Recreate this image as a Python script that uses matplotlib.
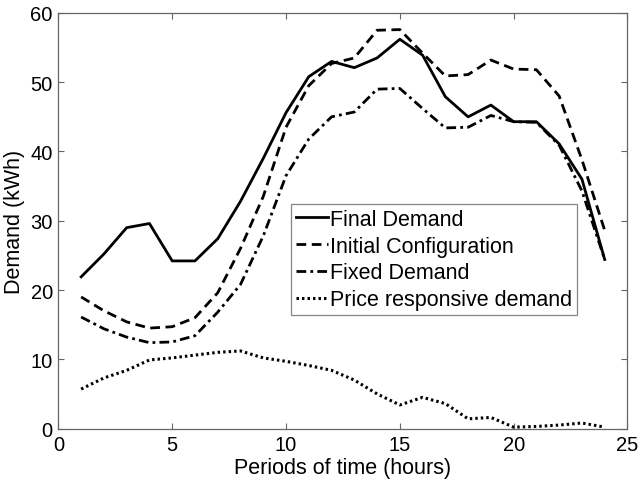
import matplotlib
matplotlib.use("Agg")
import matplotlib.pyplot as plt

periods = list(range(1, 25))

final_demand = [21.9, 25.2, 29.0, 29.6, 24.2, 24.2, 27.4, 32.8, 39.0, 45.6, 50.8, 53.0,
                52.1, 53.5, 56.2, 53.9, 47.9, 45.0, 46.7, 44.3, 44.3, 41.1, 36.0, 24.4]
initial_config = [19.0, 17.0, 15.4, 14.5, 14.7, 16.0, 19.6, 26.0, 33.5, 43.5, 49.5, 52.7,
                  53.5, 57.5, 57.6, 54.2, 50.9, 51.1, 53.2, 51.9, 51.8, 48.0, 38.8, 28.6]
fixed_demand = [16.1, 14.4, 13.2, 12.4, 12.5, 13.4, 16.8, 20.8, 27.8, 36.5, 41.8, 45.0,
                45.7, 49.0, 49.1, 46.2, 43.4, 43.5, 45.2, 44.3, 44.2, 40.9, 34.3, 24.4]
price_responsive = [5.7, 7.3, 8.4, 9.9, 10.2, 10.6, 11.0, 11.2, 10.2, 9.7, 9.1, 8.4,
                    7.0, 5.0, 3.4, 4.5, 3.6, 1.4, 1.6, 0.2, 0.3, 0.5, 0.8, 0.2]

plt.rcParams["font.family"] = ["Liberation Sans", "DejaVu Sans"]
plt.rcParams["font.size"] = 15.5

fig = plt.figure(figsize=(6.38, 4.81), dpi=100)
ax = fig.add_axes([0.0915, 0.107, 0.892, 0.864])

ax.plot(periods, final_demand, color="black", linewidth=2.0, linestyle="-",
        label="Final Demand")
ax.plot(periods, initial_config, color="black", linewidth=2.0, linestyle=(0, (3.5, 2.0)),
        label="Initial Configuration")
ax.plot(periods, fixed_demand, color="black", linewidth=2.0,
        linestyle=(0, (3.5, 1.5, 1, 1.5)), label="Fixed Demand")
ax.plot(periods, price_responsive, color="black", linewidth=2.2,
        linestyle=(0, (0.8, 1.0)), label="Price responsive demand")

ax.set_xlim(0, 25)
ax.set_ylim(0, 60)
ax.set_xticks([0, 5, 10, 15, 20, 25])
ax.set_yticks([0, 10, 20, 30, 40, 50, 60])
ax.tick_params(direction="in", length=4.5, width=0.8, color="#666666",
               top=True, right=True, labelsize=14.5)
ax.tick_params(axis="x", pad=5)
ax.tick_params(axis="y", pad=4)
for side in ax.spines.values():
    side.set_color("#666666")
    side.set_linewidth(0.9)

ax.set_xlabel("Periods of time (hours)", labelpad=2)
ax.set_ylabel("Demand (kWh)", labelpad=4)

leg = ax.legend(loc="upper left", bbox_to_anchor=(0.409, 0.54), borderaxespad=0,
                frameon=True, fancybox=False, handlelength=1.5, handletextpad=0.1,
                labelspacing=0.27, borderpad=0.22, fontsize=15.5)
leg.get_frame().set_edgecolor("#666666")
leg.get_frame().set_linewidth(0.9)

fig.savefig("out.png", dpi=100)
